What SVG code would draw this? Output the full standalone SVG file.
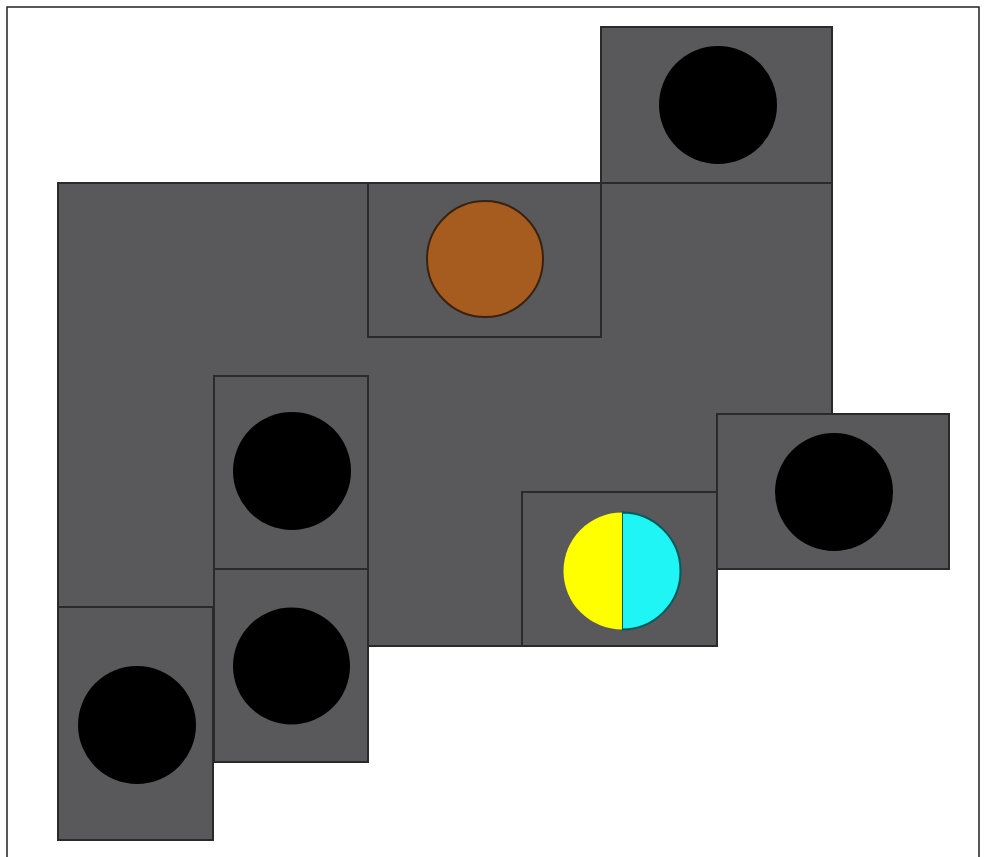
<svg xmlns="http://www.w3.org/2000/svg" width="985" height="857" viewBox="0 0 985 857">
<style>
.g{fill:#59595b;stroke:#2a2a2a;stroke-width:2}
.b{fill:#000}
</style>
<rect x="0" y="0" width="985" height="857" fill="#fff"/>
<path d="M7,857 V7 H979 V857" fill="none" stroke="#222" stroke-width="1.5"/>
<g id="main"><polygon class="g" points="58,183 832,183 832,414 717,414 717,646 368,646 368,607 58,607"/></g>
<g id="top-right"><rect class="g" x="601" y="27" width="231" height="156"/><circle class="b" cx="718" cy="105" r="59"/></g>
<g id="brown"><rect class="g" x="368" y="183" width="233" height="154"/><circle cx="485" cy="259" r="58" fill="#a65c1f" stroke="#3a2210" stroke-width="2"/></g>
<g id="left-mid"><rect class="g" x="214" y="376" width="154" height="193"/><circle class="b" cx="292" cy="471" r="59"/></g>
<g id="left-low"><rect class="g" x="214" y="569" width="154" height="193"/><circle class="b" cx="291.5" cy="666" r="58.5"/></g>
<g id="bottom-left"><rect class="g" x="58" y="607" width="155" height="233"/><circle class="b" cx="137" cy="725" r="59"/></g>
<g id="yellow-cyan"><rect class="g" x="522" y="492" width="195" height="154"/>
<path d="M622,512.5 A58.5,58.5 0 0 1 622,629.5 Z" fill="#1ff5f5" stroke="#005a5a" stroke-width="2"/>
<path d="M622,512.5 A58.5,58.5 0 0 0 622,629.5 Z" fill="#ffff00"/></g>
<g id="right"><rect class="g" x="717" y="414" width="232" height="155"/><circle class="b" cx="834" cy="492" r="59"/></g>
<g id="connectors"></g>
</svg>
